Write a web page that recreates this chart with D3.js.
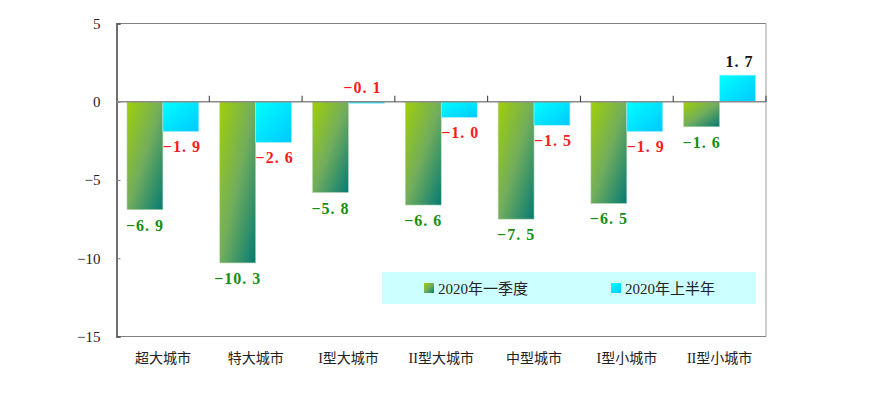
<!DOCTYPE html>
<html><head><meta charset="utf-8">
<script src="https://cdn.jsdelivr.net/npm/d3@7"></script>
<style>body{margin:0;background:#fff}</style></head>
<body><svg id="c" width="889" height="394"></svg>
<script>
const categories = ["超大城市","特大城市","I型大城市","II型大城市","中型城市","I型小城市","II型小城市"];
const q1Values = [-6.9,-10.3,-5.8,-6.6,-7.5,-6.5,-1.6];
const h1Values = [-1.9,-2.6,-0.1,-1.0,-1.5,-1.9,1.7];
const seriesNames = ["2020年一季度","2020年上半年"];
const yTicks = [5,0,-5,-10,-15];

const svg = d3.select("#c");
const L=116.5, R=766, T=23.5, B=336.5;
const x = d3.scaleBand().domain(categories).range([L,R]).paddingInner(0.226).paddingOuter(0.113);
const xs = d3.scaleBand().domain([0,1]).range([0,x.bandwidth()]);
const y = d3.scaleLinear().domain([-15,5]).range([B,T]);

const defs = svg.append("defs");
const g1 = defs.append("linearGradient").attr("id","gG").attr("x1","0").attr("y1","0").attr("x2","1").attr("y2","1");
g1.append("stop").attr("offset","0").attr("stop-color","#a0cf08");
g1.append("stop").attr("offset","0.5").attr("stop-color","#72ad5c");
g1.append("stop").attr("offset","1").attr("stop-color","#047a74");
const g2 = defs.append("linearGradient").attr("id","gC").attr("x1","0").attr("y1","0").attr("x2","1").attr("y2","1");
g2.append("stop").attr("offset","0").attr("stop-color","#00ffff");
g2.append("stop").attr("offset","1").attr("stop-color","#00c8ff");

// frame
svg.append("line").attr("x1",L).attr("x2",R).attr("y1",T).attr("y2",T).attr("stroke","#808080");
svg.append("line").attr("x1",R).attr("x2",R).attr("y1",T).attr("y2",B).attr("stroke","#9a9a9a");
svg.append("line").attr("x1",L).attr("x2",R).attr("y1",B).attr("y2",B).attr("stroke","#808080");

// y axis
const ya = svg.append("g").attr("transform",`translate(${L},0)`)
  .call(d3.axisLeft(y).tickValues(yTicks).tickSize(-4).tickPadding(20).tickFormat(d=>d<0?"−"+Math.abs(d):d));
ya.select(".domain").attr("stroke","#222").attr("stroke-width",1.3);
ya.selectAll(".tick line").attr("stroke","#808080");
ya.selectAll("text").attr("font-family","Liberation Serif, DejaVu Serif, serif").attr("font-size",15).attr("fill","#222").attr("text-anchor","end").attr("dx",4);

// bars
const data = categories.map((c,i)=>({c,v:[q1Values[i],h1Values[i]]}));
const fills=["url(#gG)","url(#gC)"];
data.forEach(d=>{
  d.v.forEach((v,k)=>{
    svg.append("rect").attr("x",x(d.c)+xs(k)).attr("width",xs.bandwidth())
      .attr("y",y(Math.max(0,v))).attr("height",Math.abs(y(v)-y(0)))
      .attr("fill",fills[k]).attr("stroke", k? "#a0f0ff":"#b8d8b0").attr("stroke-width",0.6);
  });
});

// zero axis
svg.append("line").attr("x1",L).attr("x2",R).attr("y1",y(0)).attr("y2",y(0)).attr("stroke","#8a8a8a").attr("stroke-width",1.5);
const bounds = categories.slice(1).map(c=>x(c)-x.step()*x.paddingInner()/2);
bounds.push(R);
svg.selectAll(".xt").data(bounds).join("line").attr("x1",d=>d).attr("x2",d=>d).attr("y1",y(0)-6).attr("y2",y(0)).attr("stroke","#333");

// value labels
const fmt = v=> (v<0?"−":"")+Math.abs(v).toFixed(1).replace(".",". ");
data.forEach(d=>{
  d.v.forEach((v,k)=>{
    let ly, lx;
    if (v>=0) { ly = y(v)-8; lx = x(d.c)+xs(k)+xs.bandwidth()/2+2; }
    else if (v>-0.5) { ly = y(0)-9; lx = x(d.c)+xs(k)+xs.bandwidth()/2-4; }
    else { ly = y(v)+21; lx = x(d.c)+xs(k)+xs.bandwidth()/2 + (k?1:0); }
    svg.append("text").attr("x",lx).attr("y",ly).attr("text-anchor","middle")
      .attr("font-family","Liberation Serif, DejaVu Serif, serif").attr("font-weight","bold").attr("font-size",16)
      .attr("letter-spacing",1)
      .attr("fill", v>=0 ? "#111" : (k? "#ff1a1a":"#139013")).text(fmt(v));
  });
});

// category labels
svg.selectAll(".cl").data(categories).join("text").attr("x",d=>x(d)+x.bandwidth()/2).attr("y",363)
  .attr("text-anchor","middle").attr("font-family","Liberation Serif, Noto Sans CJK SC, serif").attr("font-size",14).attr("fill","#222").text(d=>d);

// legend
const lg = svg.append("g");
lg.append("rect").attr("x",382).attr("y",272).attr("width",374).attr("height",32).attr("fill","#ccffff");
const lx=[424,611];
seriesNames.forEach((n,k)=>{
  lg.append("rect").attr("x",lx[k]).attr("y",283).attr("width",10).attr("height",10).attr("fill",fills[k]);
  lg.append("text").attr("x",lx[k]+14).attr("y",293.5).attr("font-family","Liberation Serif, Noto Sans CJK SC, serif").attr("font-size",15).attr("fill","#222").text(n);
});
</script></body></html>
